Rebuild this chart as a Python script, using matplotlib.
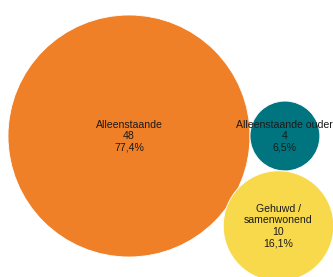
import numpy as np
import matplotlib.pyplot as plt
from matplotlib.patches import Circle

labels = ["Alleenstaande", "Alleenstaande ouder", "Gehuwd /\nsamenwonend"]
counts = [48, 4, 10]
pct_labels = ["77,4%", "6,5%", "16,1%"]
colors = ["#EF8027", "#00757F", "#F8D94B"]

W, H = 333, 277
fig = plt.figure(figsize=(W / 100, H / 100), dpi=100)
ax = fig.add_axes([0, 0, 1, 1])
ax.set_xlim(0, W)
ax.set_ylim(H, 0)
ax.set_aspect("equal")
ax.axis("off")

# radius proportional to sqrt(count)
k = 121 / np.sqrt(max(counts))
r = [k * np.sqrt(c) for c in counts]

# simple packing: big circle, second to the right, third tangent to both
c0 = np.array([129.0, 136.0])
c1 = c0 + np.array([r[0] + r[1], 0])
d01, d02, d12 = r[0] + r[1], r[0] + r[2], r[1] + r[2]
px = (d02**2 - d12**2 + d01**2) / (2 * d01)
py = np.sqrt(d02**2 - px**2)
c2 = c0 + np.array([px - 2, py])
centers = [c0, c1, c2]

for i in range(3):
    ax.add_patch(Circle(centers[i], r[i], facecolor=colors[i],
                        edgecolor="white", linewidth=0.6))
    txt = labels[i] + "\n" + str(counts[i]) + "\n" + pct_labels[i]
    ax.text(centers[i][0], centers[i][1], txt, ha="center", va="center",
            fontsize=7.6, family="Liberation Sans", color="#1a1a1a",
            linespacing=1.18)

fig.savefig("out.png", dpi=100)
